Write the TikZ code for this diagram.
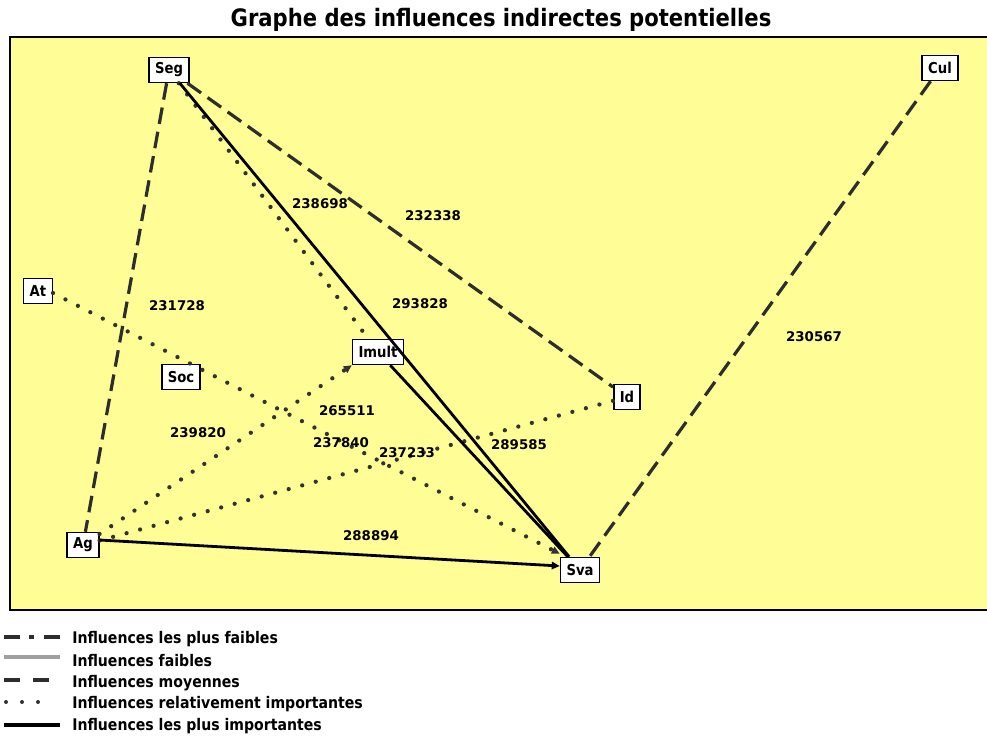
\documentclass[tikz,border=0pt]{standalone}
\usepackage{fontspec}
\setmainfont{DejaVu Sans}
\newfontfamily\condfont[FakeStretch=0.88]{DejaVu Sans}
\usetikzlibrary{arrows.meta,calc}
\definecolor{bgyellow}{RGB}{255,253,150}
\definecolor{dashgray}{RGB}{45,45,45}
\definecolor{dotgray}{RGB}{50,50,50}
\definecolor{leggray}{RGB}{160,160,160}
\tikzset{
  nbox/.style={draw=black, line width=1.1pt, fill=white, font=\condfont\bfseries\fontsize{11.25}{12}\selectfont,
    inner xsep=4.5pt, inner ysep=0pt, minimum height=18.75pt},
  lbl/.style={font=\bfseries\fontsize{10}{11}\selectfont, inner sep=0pt},
  medline/.style={draw=dashgray, line width=2.4pt, dash pattern=on 12.5pt off 6pt},
  dotline/.style={draw=dotgray, line width=3.2pt, line cap=round, dash pattern=on 0pt off 10.5pt},
  strongline/.style={draw=black, line width=2.1pt},
  tip/.style={-{Triangle[length=6pt,width=5.5pt]}},
  legtext/.style={anchor=west, font=\condfont\bfseries\fontsize{12}{13}\selectfont, inner sep=0pt},
  titletext/.style={font=\condfont\bfseries\fontsize{18}{20}\selectfont, inner sep=0pt}
}
\begin{document}
\begin{tikzpicture}[x=0.75pt,y=-0.75pt]
\useasboundingbox (0,0) rectangle (987,736);
\fill[white] (0,0) rectangle (987,736);
% frame
\fill[bgyellow] (10,37) rectangle (987,610);
\draw[line width=1.4pt] (987,37) -- (10,37) -- (10,610) -- (987,610);
% title
\node[titletext] (title) at (501,20) {Graphe des influences indirectes potentielles};
% nodes
\node[nbox] (Seg) at (169,70) {Seg};
\node[nbox] (Cul) at (940,68) {Cul};
\node[nbox] (At) at (38,291) {At};
\node[nbox] (Soc) at (181,377) {Soc};
\node[nbox] (Imult) at (378,352) {Imult};
\node[nbox] (Id) at (627,397) {Id};
\node[nbox] (Ag) at (83,545) {Ag};
\node[nbox] (Sva) at (580,570) {Sva};
% edges
\draw[medline] (Seg) -- (Ag);
\draw[medline] (Seg) -- (Id);
\draw[medline] (Cul) -- (Sva);
\draw[dotline] (Seg) -- (Imult);
\draw[dotline,tip] ($(At.east)+(0,2)$) -- ($(Sva.north west)+(0,-3)$);
\draw[dotline,tip] (Ag) -- (Imult.south west);
\draw[dotline] (Ag) -- (Id);
\draw[strongline] (Seg) -- (Sva);
\draw[strongline] (Imult) -- (Sva);
\draw[strongline,tip] ($(Ag.east)+(0,-5)$) -- ($(Sva.west)+(0,-4)$);
% edge labels
\node[lbl] (v1) at (320,204) {238698};
\node[lbl] (v2) at (433,216) {232338};
\node[lbl] (v3) at (177,306) {231728};
\node[lbl] (v4) at (420,304) {293828};
\node[lbl] (v5) at (814,337) {230567};
\node[lbl] (v6) at (347,411) {265511};
\node[lbl] (v7) at (198,433) {239820};
\node[lbl] (v8) at (341,443) {237840};
\node[lbl] (v9) at (407,453) {237233};
\node[lbl] (v10) at (519,445) {289585};
\node[lbl] (v11) at (371,536) {288894};
% legend
\coordinate (a1) at (4,637); \coordinate (b1) at (60,637);
\coordinate (a2) at (4,657); \coordinate (b2) at (60,657);
\coordinate (a3) at (4,680); \coordinate (b3) at (50,680);
\coordinate (a4) at (6,702); \coordinate (b4) at (54,702);
\coordinate (a5) at (4,725); \coordinate (b5) at (60,725);
\draw[draw=dashgray, line width=3pt, dash pattern=on 12pt off 6.75pt on 3.75pt off 7.5pt on 13pt] (a1) -- (b1);
\draw[draw=leggray, line width=3pt] (a2) -- (b2);
\draw[draw=dashgray, line width=3pt, dash pattern=on 12pt off 10pt] (a3) -- (b3);
\draw[draw=dotgray, line width=3pt, line cap=round, dash pattern=on 0pt off 12pt] (a4) -- (b4);
\draw[draw=black, line width=3pt] (a5) -- (b5);
\node[legtext] (t1) at (72,639) {Influences les plus faibles};
\node[legtext] (t2) at (72,661) {Influences faibles};
\node[legtext] (t3) at (72,683) {Influences moyennes};
\node[legtext] (t4) at (72,704) {Influences relativement importantes};
\node[legtext] (t5) at (72,726) {Influences les plus importantes};
\end{tikzpicture}
\end{document}
